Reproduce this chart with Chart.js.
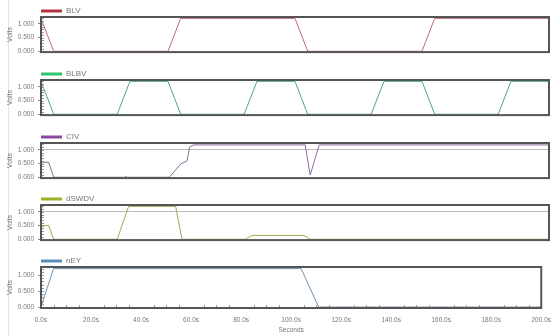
<!DOCTYPE html>
<html>
<head>
<meta charset="utf-8">
<script src="https://cdn.jsdelivr.net/npm/chart.js@4/dist/chart.umd.min.js"></script>
<style>
    html, body { margin: 0; padding: 0; background: #fff; }
    #wrap { position: relative; width: 559px; height: 336px; overflow: hidden; }
    #wrap::before { content: ""; position: absolute; left: 8px; top: 0; width: 1px; height: 336px; background: #e4e4e4; }
    .panel { position: absolute; left: 0; width: 559px; }
</style>
</head>
<body>
<div id="wrap"></div>
<script>
// trace data: time in seconds, voltage in volts
const blvTime = [0, 5, 50, 55, 100, 105, 150, 155, 200];
const blvVolts = [1.2, 0, 0, 1.2, 1.2, 0, 0, 1.2, 1.2];

const blbvTime = [0, 5, 30, 35, 50, 55, 80, 85, 100, 105, 130, 135, 150, 155, 180, 185, 200];
const blbvVolts = [1.2, 0, 0, 1.2, 1.2, 0, 0, 1.2, 1.2, 0, 0, 1.2, 1.2, 0, 0, 1.2, 1.2];

const civTime = [0, 3, 5, 33, 33.5, 34, 50.5, 55, 57.5, 58.5, 60, 104, 106, 109.5, 200];
const civVolts = [0.55, 0.55, 0, 0, 0.03, 0, 0, 0.48, 0.6, 1.1, 1.18, 1.18, 0.08, 1.18, 1.18];

const dswdvTime = [0, 3, 5, 30, 34.5, 53, 55.5, 80.5, 83, 103.5, 106, 200];
const dswdvVolts = [0.5, 0.5, 0, 0, 1.2, 1.2, 0, 0, 0.14, 0.14, 0, 0];

const neyTime = [0, 5, 104, 111, 200];
const neyVolts = [0, 1.2, 1.2, 0, 0];

const seriesNames = ["BLV", "BLBV", "CIV", "dSWDV", "nEY"];
const yTickValues = [0, 0.5, 1];
const xTickStep = 20;

// panel setup
const plotTops = [17, 80, 143, 205, 267];
const legendColors = ["#b5333f", "#2ec46a", "#8c4a9e", "#9bb025", "#5b8db8"];
const lineColors = ["#c46a74", "#4aa88a", "#8a6a9c", "#a4a84e", "#6f93b0"];
const showRefLine = [false, false, true, true, false];
const allTimes = [blvTime, blbvTime, civTime, dswdvTime, neyTime];
const allVolts = [blvVolts, blbvVolts, civVolts, dswdvVolts, neyVolts];

const FONT = "'Liberation Sans', Arial, sans-serif";

// box, minor ticks and legend for each panel
const panelDecor = {
    id: "panelDecor",
    afterDatasetsDraw(chart, args, opts) {
        const { ctx, chartArea: a, scales } = chart;
        ctx.save();
        // minor ticks on left edge
        ctx.strokeStyle = "#999";
        ctx.lineWidth = 1;
        ctx.beginPath();
        for (let v = 0; v <= 1.2001; v += 0.1) {
            const y = Math.round(scales.y.getPixelForValue(v)) + 0.5;
            ctx.moveTo(a.left, y);
            ctx.lineTo(a.left + 3, y);
        }
        if (opts.xMinor) {
            for (let t = 5; t < 200; t += 5) {
                if (t % 20 === 0) continue;
                const x = Math.round(scales.x.getPixelForValue(t)) + 0.5;
                ctx.moveTo(x, a.bottom);
                ctx.lineTo(x, a.bottom - 3);
            }
        }
        ctx.stroke();
        // frame
        ctx.strokeStyle = "#555";
        ctx.lineWidth = 2;
        ctx.strokeRect(a.left, a.top, a.right - a.left, a.bottom - a.top);
        // legend
        const ly = a.top - 6;
        ctx.strokeStyle = opts.color;
        ctx.lineWidth = 3;
        ctx.beginPath();
        ctx.moveTo(a.left, ly);
        ctx.lineTo(a.left + 21, ly);
        ctx.stroke();
        ctx.fillStyle = "#777";
        ctx.font = "8px " + FONT;
        ctx.textBaseline = "middle";
        ctx.fillText(opts.label, a.left + 25, ly);
        ctx.restore();
    }
};

const wrap = document.getElementById("wrap");

function makePanel(i) {
    const last = i === 4;
    const top = plotTops[i] - 17;
    const div = document.createElement("div");
    div.className = "panel";
    div.style.top = top + "px";
    div.style.height = (last ? 336 - top : 60) + "px";
    const canvas = document.createElement("canvas");
    div.appendChild(canvas);
    wrap.appendChild(div);

    const points = allTimes[i].map((t, k) => ({ x: t, y: allVolts[i][k] }));

    const xScale = {
        type: "linear",
        min: 0,
        max: 200,
        display: last,
        border: { display: false },
        grid: { drawOnChartArea: false, drawTicks: false },
        ticks: {
            stepSize: xTickStep,
            padding: 8,
            maxRotation: 0,
            color: "#777",
            font: { family: FONT, size: 6.5 },
            callback: (v) => v.toFixed(1) + "s"
        },
        title: {
            display: true,
            text: "Seconds",
            color: "#777",
            padding: { top: 0, bottom: 2 },
            font: { family: FONT, size: 6.5 }
        }
    };
    if (last) xScale.afterFit = (s) => { s.height = 28; };

    new Chart(canvas, {
        type: "line",
        data: {
            datasets: [{
                label: seriesNames[i],
                data: points,
                borderColor: lineColors[i],
                borderWidth: 1,
                pointRadius: 0,
                tension: 0
            }]
        },
        options: {
            responsive: true,
            maintainAspectRatio: false,
            animation: false,
            layout: { padding: { top: 17, right: 10, bottom: last ? 0 : 2, left: 0 } },
            plugins: {
                legend: { display: false },
                tooltip: { enabled: false },
                panelDecor: { color: legendColors[i], label: seriesNames[i], xMinor: last }
            },
            scales: {
                x: xScale,
                y: {
                    min: -0.03,
                    max: 1.25,
                    afterFit: (s) => { s.width = 41; },
                    afterBuildTicks: (s) => { s.ticks = yTickValues.map((v) => ({ value: v })); },
                    border: { display: false },
                    grid: {
                        drawOnChartArea: true,
                        tickLength: 3,
                        tickColor: "#888",
                        color: (c) => (showRefLine[i] && c.tick && c.tick.value === 1 ? "#bbb" : "rgba(0,0,0,0)")
                    },
                    ticks: {
                        padding: 4,
                        color: "#777",
                        font: { family: FONT, size: 6.5 },
                        callback: (v) => Number(v).toFixed(3)
                    },
                    title: {
                        display: true,
                        text: "Volts",
                        color: "#777",
                        padding: { top: 6, bottom: 0 },
                        font: { family: FONT, size: 7 }
                    }
                }
            }
        },
        plugins: [panelDecor]
    });
}

for (let i = 0; i < 5; i++) makePanel(i);
</script>
</body>
</html>
